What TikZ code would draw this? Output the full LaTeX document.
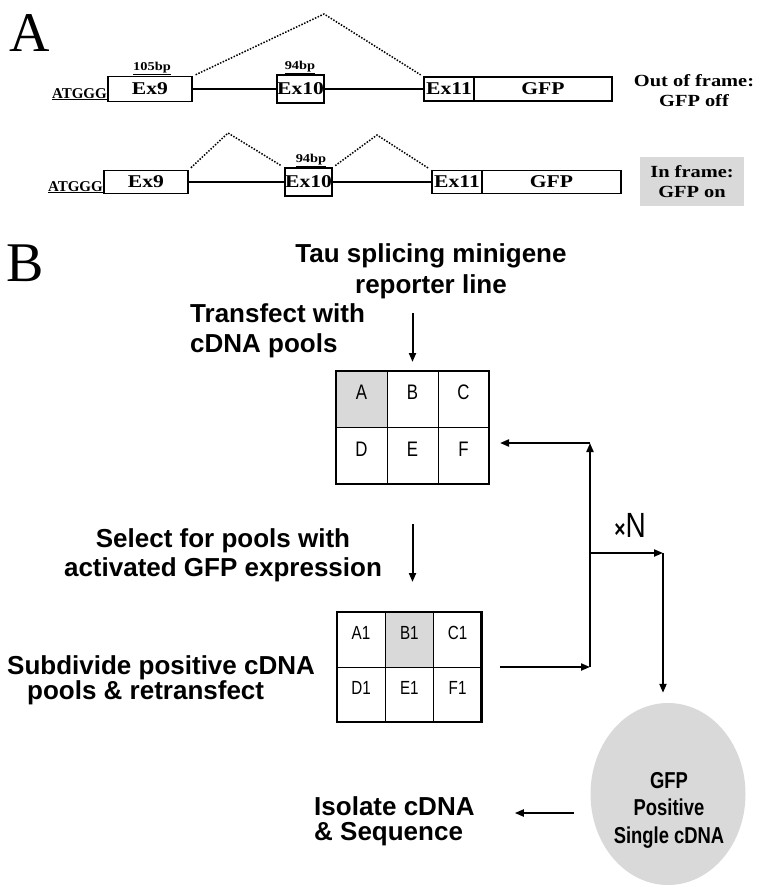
\documentclass[tikz,border=0pt]{standalone}
\usepackage{fontspec}
\setmainfont{Liberation Serif}
\setsansfont{Liberation Sans}
\newfontfamily\exfont[FakeStretch=1.2]{Liberation Serif}
\newfontfamily\narrowfont[FakeStretch=0.8]{Liberation Sans}
\usetikzlibrary{positioning,shapes.geometric,arrows.meta}
\definecolor{shade}{gray}{0.85}

\begin{document}
\begin{tikzpicture}[x=1pt, y=-1pt,
    exon/.style={draw, line width=1.6pt, inner sep=0pt, outer sep=0pt, minimum height=24pt, font=\exfont\bfseries\fontsize{18}{18}\selectfont},
    intron/.style={line width=1.6pt},
    splice/.style={line width=1.5pt, dash pattern=on 1.5pt off 1.5pt, shorten <=4pt, shorten >=4pt},
    atg/.style={inner sep=0pt, font=\bfseries\fontsize{15}{15}\selectfont},
    bp/.style={inner sep=0pt, font=\exfont\bfseries\fontsize{12}{12}\selectfont},
    frame/.style={inner sep=0pt, align=center, font=\exfont\bfseries\fontsize{17}{20}\selectfont},
    panel/.style={inner sep=0pt, font=\fontsize{56}{56}\selectfont},
    steptext/.style={inner sep=0pt, font=\sffamily\bfseries\fontsize{26}{30}\selectfont},
    poolcell/.style={draw, line width=0.8pt, inner sep=0pt, outer sep=0pt, minimum width=51pt, minimum height=56.5pt, text height=15pt, text depth=14pt, font=\narrowfont\fontsize{21}{21}\selectfont},
    subcell/.style={draw, line width=0.8pt, inner sep=0pt, outer sep=0pt, minimum width=48.3pt, minimum height=55pt, text height=13pt, text depth=13pt, font=\narrowfont\fontsize{19}{19}\selectfont},
    arr/.style={-{Triangle[length=9pt,width=7pt]}, line width=2pt}]
    \useasboundingbox (0,0) rectangle (766,892);

    \node [panel] (lblA) at (30,33) {A};
    \node [exon, minimum width=84pt, minimum height=25pt] (ex9a) at (150,89) {Ex9};
    \node [exon, minimum width=47pt, minimum height=28pt] (ex10a) at (300.5,89) {Ex10};
    \node [exon, minimum width=50pt] (ex11a) at (449,89) {Ex11};
    \node [exon, minimum width=138pt, right=0pt of ex11a] (gfpa) {GFP};
    \node [atg, anchor=base east] (atga) at (107,98) {\underline{ATGGG}};
    \node [bp, anchor=base] (bpa) at (152,70) {\underline{105bp}};
    \node [bp, anchor=base] (bpb) at (300,69) {\underline{94bp}};
    \node [frame] (offlbl) at (694,91) {Out of frame:\\GFP off};
    \path[intron] (ex9a) edge (ex10a) (ex10a) edge (ex11a);
    \coordinate (pka) at (324,14);
    \draw[splice] (ex9a.north east) -- (pka) -- (ex11a.north west);

    \node [exon, minimum width=84pt, minimum height=23pt] (ex9b) at (146,182) {Ex9};
    \node [exon, minimum width=47pt, minimum height=28pt] (ex10b) at (308.5,182) {Ex10};
    \node [exon, minimum width=50pt, minimum height=23pt] (ex11b) at (457,182) {Ex11};
    \node [exon, minimum width=139pt, minimum height=23pt, right=0pt of ex11b] (gfpb) {GFP};
    \node [atg, anchor=base east] (atgb) at (103,191) {\underline{ATGGG}};
    \node [bp, anchor=base] (bpc) at (311,162) {\underline{94bp}};
    \node [frame, fill=shade, minimum width=104pt, minimum height=49pt] (onlbl) at (692,181.5) {In frame:\\GFP on};
    \path[intron] (ex9b) edge (ex10b) (ex10b) edge (ex11b);
    \coordinate (pkb) at (228,133);
    \coordinate (pkc) at (377,135);
    \draw[splice] (ex9b.north east) -- (pkb) -- (ex10b.north west);
    \draw[splice] (ex10b.north east) -- (pkc) -- (ex11b.north west);

    \node [panel] (lblB) at (25,263.5) {B};
    \node [steptext, align=center, font=\sffamily\bfseries\fontsize{26}{31}\selectfont] (tau) at (431,271) {Tau splicing minigene\\reporter line};
    \node [steptext, align=left, anchor=west] (transfect) at (190,330.5) {Transfect with\\cDNA pools};
    \foreach \c/\s [count=\i from 0] in {A/shade,B/white,C/white,D/white,E/white,F/white}
        \node [poolcell, fill=\s] (g\c) at ({361.5+51*mod(\i,3)},{399.25+56.5*int(\i/3)}) {\c};
    \draw[line width=2.6pt] (gA.north west) rectangle (gF.south east);
    \coordinate (feedin) at (412.5,313);
    \draw[arr, shorten >=9pt] (feedin) -- (gB.north);

    \node [steptext, align=center, font=\sffamily\bfseries\fontsize{26}{29}\selectfont] (select) at (223,555) {Select for pools with\\activated GFP expression};
    \node [steptext, align=left, anchor=west, font=\sffamily\bfseries\fontsize{26}{25}\selectfont] (subdivide) at (7,680) {Subdivide positive cDNA\\\hspace*{20pt}pools \& retransfect};
    \foreach \c/\s [count=\i from 0] in {A1/white,B1/shade,C1/white,D1/white,E1/white,F1/white}
        \node [subcell, fill=\s] (g\c) at ({361+48.3*mod(\i,3)},{639.5+55*int(\i/3)}) {\c};
    \draw[line width=2.6pt] (gA1.north west) rectangle (gF1.south east);
    \draw[arr, shorten <=40pt, shorten >=30pt] (gE.south) -- (gE.south |- gB1.north);

    \node [ellipse, fill=shade, minimum width=155pt, minimum height=182pt, inner sep=0pt] (gfp) at (668,794) {};
    \node [inner sep=0pt, align=center, font=\narrowfont\bfseries\fontsize{23}{27.5}\selectfont] (gfplbl) at (669,810) {GFP\\Positive\\Single cDNA};
    \node [inner sep=0pt, font=\narrowfont\fontsize{35}{35}\selectfont] (rounds) at (630,525) {{\bfseries\fontsize{24}{24}\selectfont ×}N};
    \node [steptext, align=left, anchor=west, font=\sffamily\bfseries\fontsize{26}{25}\selectfont] (iso) at (314,821) {Isolate cDNA\\\& Sequence};

    \coordinate (j1) at (590,667);
    \coordinate (j2) at (590,443);
    \coordinate (j3) at (590,553);
    \coordinate (j4) at (663,553);
    \draw[arr, shorten <=18pt] (gC1.south east) -- (j1);
    \draw[arr] (j1) -- (j2);
    \draw[arr, shorten >=11pt] (j2) -- (gF.east |- j2);
    \draw[arr] (j3) -- (j4);
    \draw[arr, shorten >=10pt] (j4) -- (j4 |- gfp.north);
    \draw[arr, shorten <=16pt, shorten >=40pt] (gfp.west |- 0,813) -- (iso.east |- 0,813);
\end{tikzpicture}
\end{document}
